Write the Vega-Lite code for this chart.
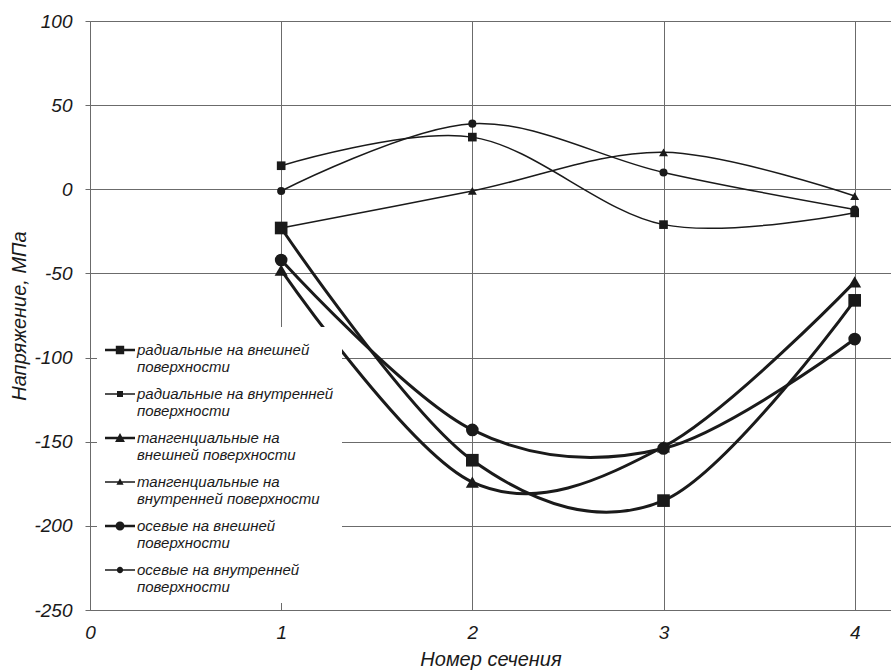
{
  "$schema": "https://vega.github.io/schema/vega-lite/v6.json",
  "autosize": {"type": "none"},
  "padding": {"left": 90, "top": 21, "right": 0, "bottom": 61},
  "width": 801,
  "height": 589,
  "background": "white",
  "config": {
    "view": {"stroke": null},
    "font": "Liberation Sans",
    "axis": {
      "labelFont": "Liberation Sans",
      "labelFontStyle": "italic",
      "labelFontSize": 19,
      "labelColor": "#1a1a1a",
      "titleFont": "Liberation Sans",
      "titleFontStyle": "italic",
      "titleFontWeight": "normal",
      "titleFontSize": 20,
      "titleColor": "#1a1a1a",
      "gridColor": "#6b6b6b",
      "gridWidth": 1,
      "gridOpacity": 1,
      "domainColor": "#6b6b6b",
      "domainWidth": 1,
      "tickColor": "#6b6b6b"
    }
  },
  "data": {
    "values": [
      {"series": "радиальные на внешней поверхности", "x": 1, "y": -23},
      {"series": "радиальные на внешней поверхности", "x": 2, "y": -161},
      {"series": "радиальные на внешней поверхности", "x": 3, "y": -185},
      {"series": "радиальные на внешней поверхности", "x": 4, "y": -66},
      {"series": "радиальные на внутренней поверхности", "x": 1, "y": 14},
      {"series": "радиальные на внутренней поверхности", "x": 2, "y": 31},
      {"series": "радиальные на внутренней поверхности", "x": 3, "y": -21},
      {"series": "радиальные на внутренней поверхности", "x": 4, "y": -14},
      {"series": "тангенциальные на внешней поверхности", "x": 1, "y": -48},
      {"series": "тангенциальные на внешней поверхности", "x": 2, "y": -174},
      {"series": "тангенциальные на внешней поверхности", "x": 3, "y": -153},
      {"series": "тангенциальные на внешней поверхности", "x": 4, "y": -55},
      {"series": "тангенциальные на внутренней поверхности", "x": 1, "y": -23},
      {"series": "тангенциальные на внутренней поверхности", "x": 2, "y": -1},
      {"series": "тангенциальные на внутренней поверхности", "x": 3, "y": 22},
      {"series": "тангенциальные на внутренней поверхности", "x": 4, "y": -4},
      {"series": "осевые на внешней поверхности", "x": 1, "y": -42},
      {"series": "осевые на внешней поверхности", "x": 2, "y": -143},
      {"series": "осевые на внешней поверхности", "x": 3, "y": -154},
      {"series": "осевые на внешней поверхности", "x": 4, "y": -89},
      {"series": "осевые на внутренней поверхности", "x": 1, "y": -1},
      {"series": "осевые на внутренней поверхности", "x": 2, "y": 39},
      {"series": "осевые на внутренней поверхности", "x": 3, "y": 10},
      {"series": "осевые на внутренней поверхности", "x": 4, "y": -12}
    ]
  },
  "encoding": {
    "x": {
      "field": "x",
      "type": "quantitative",
      "scale": {"domain": [0, 4.19], "nice": false, "zero": false},
      "axis": {
        "title": "Номер сечения",
        "values": [0, 1, 2, 3, 4],
        "grid": true,
        "ticks": false,
        "labelPadding": 13,
        "titlePadding": 7,
        "labelFlush": false,
        "labelExpr": "'' + datum.value"
      }
    },
    "y": {
      "field": "y",
      "type": "quantitative",
      "scale": {"domain": [-250, 100], "nice": false, "zero": false},
      "axis": {
        "title": "Напряжение, МПа",
        "values": [-250, -200, -150, -100, -50, 0, 50, 100],
        "grid": true,
        "tickSize": 5,
        "labelPadding": 13,
        "titlePadding": 4,
        "labelFlush": false,
        "labelExpr": "'' + datum.value"
      }
    }
  },
  "layer": [
    {
      "mark": {"type": "line", "interpolate": "cardinal", "color": "#1a1a1a"},
      "encoding": {
        "detail": {"field": "series"},
        "strokeWidth": {
          "field": "series",
          "type": "nominal",
          "scale": {
            "type": "ordinal",
            "domain": ["радиальные на внешней поверхности", "радиальные на внутренней поверхности", "тангенциальные на внешней поверхности", "тангенциальные на внутренней поверхности", "осевые на внешней поверхности", "осевые на внутренней поверхности"],
            "range": [3, 1.5, 3, 1.5, 3, 1.5]
          },
          "legend": null
        }
      }
    },
    {
      "mark": {"type": "point", "filled": true, "opacity": 1, "color": "#1a1a1a"},
      "encoding": {
        "shape": {
          "field": "series",
          "type": "nominal",
          "scale": {
            "domain": ["радиальные на внешней поверхности", "радиальные на внутренней поверхности", "тангенциальные на внешней поверхности", "тангенциальные на внутренней поверхности", "осевые на внешней поверхности", "осевые на внутренней поверхности"],
            "range": ["square", "square", "triangle-up", "triangle-up", "circle", "circle"]
          },
          "legend": null
        },
        "size": {
          "field": "series",
          "type": "nominal",
          "scale": {
            "type": "ordinal",
            "domain": ["радиальные на внешней поверхности", "радиальные на внутренней поверхности", "тангенциальные на внешней поверхности", "тангенциальные на внутренней поверхности", "осевые на внешней поверхности", "осевые на внутренней поверхности"],
            "range": [160, 75, 170, 80, 160, 65]
          },
          "legend": null
        }
      }
    },
    {
      "transform": [{"filter": "datum.x > 100"}],
      "mark": {"type": "point", "filled": true, "opacity": 1, "color": "#1a1a1a"},
      "encoding": {
        "shape": {
          "field": "series",
          "type": "nominal",
          "scale": {
            "domain": ["радиальные на внешней поверхности", "радиальные на внутренней поверхности", "тангенциальные на внешней поверхности", "тангенциальные на внутренней поверхности", "осевые на внешней поверхности", "осевые на внутренней поверхности"],
            "range": [
              "M-1,-0.09H1V0.09H-1ZM-0.28,-0.28H0.28V0.28H-0.28Z",
              "M-1,-0.045H1V0.045H-1ZM-0.2,-0.2H0.2V0.2H-0.2Z",
              "M-1,-0.09H1V0.09H-1ZM0,-0.33L0.33,0.26H-0.33Z",
              "M-1,-0.045H1V0.045H-1ZM0,-0.25L0.24,0.18H-0.24Z",
              "M-1,-0.09H1V0.09H-1ZM-0.3,0A0.3,0.3 0 1,1 0.3,0A0.3,0.3 0 1,1 -0.3,0Z",
              "M-1,-0.045H1V0.045H-1ZM-0.21,0A0.21,0.21 0 1,1 0.21,0A0.21,0.21 0 1,1 -0.21,0Z"
            ]
          },
          "legend": {
            "title": null,
            "orient": "bottom-left",
            "offset": 7,
            "padding": 8,
            "fillColor": "white",
            "strokeColor": null,
            "symbolSize": 900,
            "symbolFillColor": "#1a1a1a",
            "symbolStrokeColor": "#1a1a1a",
            "symbolStrokeWidth": 0,
            "symbolOpacity": 1,
            "labelFont": "Liberation Sans",
            "labelFontStyle": "italic",
            "labelFontSize": 15,
            "labelColor": "#1a1a1a",
            "labelOffset": 2,
            "labelLimit": 300,
            "rowPadding": 4,
            "labelExpr": "indexof(datum.label, 'тангенциальные') == 0 ? ['тангенциальные на', substring(datum.label, 18)] : [substring(datum.label, 0, indexof(datum.label, ' поверхности')), 'поверхности']"
          }
        }
      }
    }
  ],
  "resolve": {"scale": {"shape": "independent", "size": "independent", "strokeWidth": "independent"}}
}
